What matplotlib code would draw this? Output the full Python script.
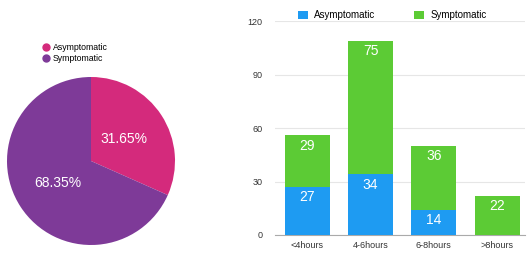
import matplotlib
matplotlib.use("Agg")
import matplotlib.pyplot as plt
import numpy as np
from matplotlib.lines import Line2D

plt.rcParams['font.family'] = ['Liberation Sans', 'DejaVu Sans']

pie_labels = ["Asymptomatic", "Symptomatic"]
pie_values = [31.65, 68.35]
pie_colors = ["#D42A7C", "#7E3A98"]

categories = ["<4hours", "4-6hours", "6-8hours", ">8hours"]
asymptomatic = [27, 34, 14, 0]
symptomatic = [29, 75, 36, 22]
bar_colors = ["#1E9BF2", "#5CCB35"]
yticks = [0, 30, 60, 90, 120]

fig = plt.figure(figsize=(5.3, 2.54), dpi=100)

# Pie chart
axp = fig.add_axes([7/530, 9/254, 168/530, 168/254])
wedges, texts, autotexts = axp.pie(pie_values, colors=pie_colors, startangle=90,
                                   counterclock=False, autopct='%.2f%%', pctdistance=0.47,
                                   textprops=dict(color='white', fontsize=10))
axp.set_xlim(-1, 1)
axp.set_ylim(-1, 1)
axp.set_aspect('equal')
handles = [Line2D([0], [0], marker='o', color='none', markerfacecolor=c, markeredgecolor=c,
                  markersize=5) for c in pie_colors]
fig.legend(handles, pie_labels, loc='upper left', bbox_to_anchor=(38/530, 1 - 39/254),
           frameon=False, fontsize=6.3, handletextpad=0.4, labelspacing=0.15,
           borderpad=0, handlelength=0.8)

# Bar chart
axb = fig.add_axes([275/530, 19/254, 250/530, 214/254])
x = np.arange(len(categories))
w = 0.71
axb.bar(x, asymptomatic, w, color=bar_colors[0], label="Asymptomatic", zorder=3)
axb.bar(x, symptomatic, w, bottom=asymptomatic, color=bar_colors[1],
        label="Symptomatic", zorder=3)
for i in range(len(categories)):
    if asymptomatic[i] > 0:
        axb.annotate(str(asymptomatic[i]), (x[i], asymptomatic[i]), xytext=(0, -7.5),
                     textcoords='offset points', ha='center', va='center',
                     color='white', fontsize=10)
    top = asymptomatic[i] + symptomatic[i]
    axb.annotate(str(symptomatic[i]), (x[i], top), xytext=(0, -7.5),
                 textcoords='offset points', ha='center', va='center',
                 color='white', fontsize=10)

axb.set_xlim(-0.51, 3.44)
axb.set_ylim(0, 120)
axb.set_yticks(yticks)
axb.set_xticks(x)
axb.set_xticklabels(categories)
axb.tick_params(axis='both', length=0, labelsize=6.5, colors='#333333')
axb.tick_params(axis='y', pad=9)
axb.tick_params(axis='x', pad=4)
axb.grid(axis='y', color='#e6e6e6', linewidth=0.8, zorder=0)
for s in ['top', 'right', 'left']:
    axb.spines[s].set_visible(False)
axb.spines['bottom'].set_color('#aaaaaa')
axb.spines['bottom'].set_linewidth(0.8)
axb.legend(loc='lower center', bbox_to_anchor=(0.47, 0.98), ncol=2, frameon=False,
           fontsize=7, handlelength=1.0, handleheight=1.0, columnspacing=4.0,
           handletextpad=0.7, borderpad=0)

fig.savefig("out.png", dpi=100)
